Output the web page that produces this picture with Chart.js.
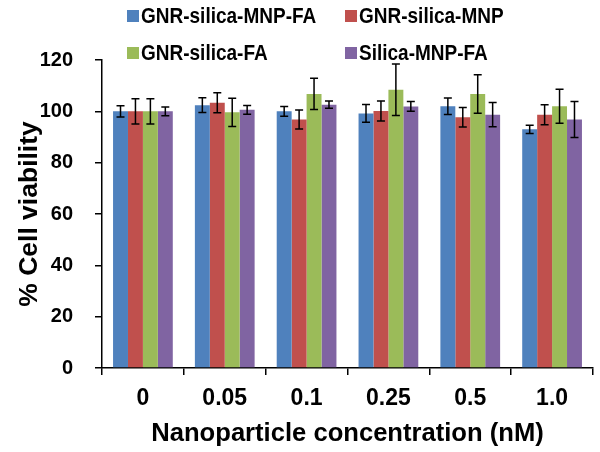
<!DOCTYPE html>
<html>
<head>
<meta charset="utf-8">
<script src="https://cdn.jsdelivr.net/npm/chart.js@4/dist/chart.umd.min.js"></script>
<style>
  html, body { margin: 0; padding: 0; background: #fff; }
  #wrap { width: 600px; height: 452px; }
</style>
</head>
<body>
<div id="wrap"><canvas id="grafico"></canvas></div>
<script>
// concentrações (nM)
const categorias = ["0", "0.05", "0.1", "0.25", "0.5", "1.0"];

const nomes = ["GNR-silica-MNP-FA", "GNR-silica-MNP", "GNR-silica-FA", "Silica-MNP-FA"];
const cores = ["#4F81BD", "#C0504D", "#9BBB59", "#8064A2"];

// viabilidade (%)
const gnrSilicaMnpFa = [100, 102.4, 100, 99.2, 102, 93];
const gnrSilicaMnp = [100, 103.3, 96.8, 100.1, 97.7, 98.7];
const gnrSilicaFa = [100, 99.6, 106.8, 108.4, 106.8, 102];
const silicaMnpFa = [100, 100.6, 102.6, 101.9, 98.7, 96.8];

// desvio padrão
const erroMnpFa = [2.2, 2.9, 1.9, 3.5, 3.2, 1.6];
const erroMnp = [4.9, 3.9, 3.7, 3.9, 3.8, 3.9];
const erroFa = [4.9, 5.5, 6.1, 10, 7.5, 6.6];
const erroSilica = [1.7, 1.7, 1.4, 1.9, 4.7, 7.0];

const valores = [gnrSilicaMnpFa, gnrSilicaMnp, gnrSilicaFa, silicaMnpFa];
const erros = [erroMnpFa, erroMnp, erroFa, erroSilica];

const fonte = "'Liberation Sans', Arial, sans-serif";

// barras de erro
const barrasErro = {
  id: "barrasErro",
  afterDatasetsDraw(chart) {
    const ctx = chart.ctx;
    const y = chart.scales.y;
    ctx.save();
    ctx.strokeStyle = "#000";
    ctx.lineWidth = 1.5;
    chart.data.datasets.forEach((ds, i) => {
      const meta = chart.getDatasetMeta(i);
      meta.data.forEach((bar, j) => {
        const v = ds.data[j];
        const e = ds.erro[j];
        const yTop = y.getPixelForValue(v + e);
        const yBot = y.getPixelForValue(v - e);
        ctx.beginPath();
        ctx.moveTo(bar.x, yTop);
        ctx.lineTo(bar.x, yBot);
        ctx.moveTo(bar.x - 4, yTop);
        ctx.lineTo(bar.x + 4, yTop);
        ctx.moveTo(bar.x - 4, yBot);
        ctx.lineTo(bar.x + 4, yBot);
        ctx.stroke();
      });
    });
    ctx.restore();
  },
};

// legenda em duas colunas
const legenda = {
  id: "legenda",
  afterDraw(chart) {
    const ctx = chart.ctx;
    const colX = [127, 345];
    const rowY = [16, 53];
    ctx.save();
    ctx.textBaseline = "middle";
    chart.data.datasets.forEach((ds, i) => {
      const x = colX[i % 2];
      const yy = rowY[Math.floor(i / 2)];
      ctx.fillStyle = ds.backgroundColor;
      ctx.fillRect(x, yy - 6, 12, 12);
      ctx.save();
      ctx.translate(x + 14, yy + 1);
      ctx.scale(1, 1.2);
      ctx.font = "bold 19px " + fonte;
      ctx.fillStyle = "#000";
      ctx.fillText(ds.label, 0, 0);
      ctx.restore();
    });
    ctx.restore();
  },
};

new Chart(document.getElementById("grafico"), {
  type: "bar",
  data: {
    labels: categorias,
    datasets: nomes.map((nome, i) => ({
      label: nome,
      data: valores[i],
      erro: erros[i],
      backgroundColor: cores[i],
      borderWidth: 0,
      barPercentage: 1,
      categoryPercentage: 0.73,
    })),
  },
  options: {
    responsive: true,
    maintainAspectRatio: false,
    animation: false,
    layout: { padding: { top: 60, right: 7, left: 0, bottom: 0 } },
    plugins: {
      legend: { display: false },
      tooltip: { enabled: false },
    },
    scales: {
      x: {
        grid: {
          offset: true,
          drawOnChartArea: false,
          color: "#000",
          tickLength: 7,
          lineWidth: 1.5,
        },
        border: { color: "#000", width: 1.5 },
        ticks: {
          color: "#000",
          font: { family: fonte, size: 23, weight: "bold" },
          padding: 10,
        },
        title: {
          display: true,
          text: "Nanoparticle concentration (nM)",
          color: "#000",
          font: { family: fonte, size: 25.6, weight: "bold" },
          padding: { top: 2, bottom: 3 },
        },
        afterFit(s) { s.height = 84; },
      },
      y: {
        min: 0,
        max: 120,
        ticks: {
          stepSize: 20,
          color: "#000",
          font: { family: fonte, size: 20, weight: "bold" },
          padding: 22,
        },
        grid: {
          drawOnChartArea: false,
          color: "#000",
          tickLength: 7,
          lineWidth: 1.5,
        },
        border: { color: "#000", width: 1.5 },
        title: {
          display: true,
          text: "% Cell viability",
          color: "#000",
          font: { family: fonte, size: 26.5, weight: "bold" },
          padding: { top: 14, bottom: 0 },
        },
        afterFit(s) { s.width = 102; },
      },
    },
  },
  plugins: [barrasErro, legenda],
});
</script>
</body>
</html>
